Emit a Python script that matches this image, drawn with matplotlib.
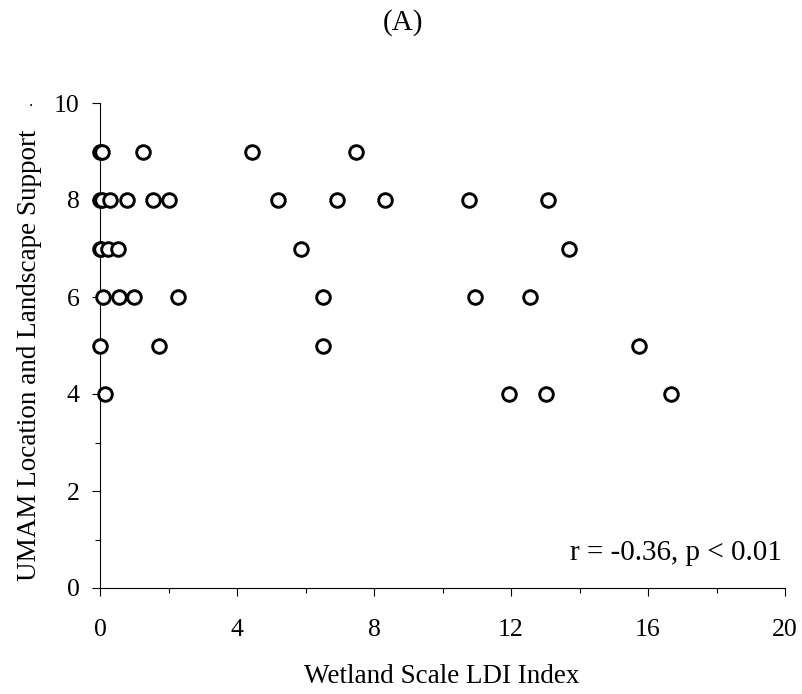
import matplotlib
matplotlib.use("Agg")
import matplotlib.pyplot as plt
from matplotlib.ticker import MultipleLocator

plt.rcParams["font.family"] = ["Liberation Serif", "DejaVu Serif"]

# LDI index values grouped by UMAM location/landscape score
ldi_9 = [0.0, 0.06, 1.25, 4.43, 7.46]
ldi_8 = [0.0, 0.05, 0.29, 0.78, 1.54, 2.02, 5.21, 6.93, 8.32, 10.78, 13.09]
ldi_7 = [0.0, 0.03, 0.22, 0.52, 5.87, 13.70]
ldi_6 = [0.1, 0.55, 1.0, 2.29, 6.52, 10.95, 12.55]
ldi_5 = [0.0, 1.73, 6.52, 15.74]
ldi_4 = [0.15, 11.94, 13.02, 16.67]

groups = [(9, ldi_9), (8, ldi_8), (7, ldi_7), (6, ldi_6), (5, ldi_5), (4, ldi_4)]
xs = [x for _, vals in groups for x in vals]
ys = [score for score, vals in groups for _ in vals]

x_ticks = [0, 4, 8, 12, 16, 20]
y_ticks = [0, 2, 4, 6, 8, 10]

W, H = 802, 694
fig = plt.figure(figsize=(W / 100, H / 100), dpi=100)
ax = fig.add_axes([100 / W, 1 - 588 / H, 685 / W, 485 / H])

ax.plot(xs, ys, linestyle="none", marker="o", markersize=9.8,
        markerfacecolor="white", markeredgecolor="black",
        markeredgewidth=2.1, clip_on=False, zorder=3)

ax.set_xlim(0, 20)
ax.set_ylim(0, 10)
ax.set_xticks(x_ticks)
ax.set_yticks(y_ticks)
ax.xaxis.set_minor_locator(MultipleLocator(2))
ax.yaxis.set_minor_locator(MultipleLocator(1))

for side in ("top", "right"):
    ax.spines[side].set_visible(False)
for side in ("left", "bottom"):
    ax.spines[side].set_linewidth(0.8)

ax.tick_params(which="major", direction="out", length=5.5, width=0.8,
               labelsize=18.5, colors="black")
ax.tick_params(which="minor", direction="out", length=3.5, width=0.8)
ax.tick_params(axis="x", which="major", pad=17)
ax.tick_params(axis="y", which="major", pad=9)

fig.text(403 / W, 1 - 30 / H, "(A)", ha="center", va="baseline", fontsize=21)
fig.text(442 / W, 1 - 683 / H, "Wetland Scale LDI Index",
         ha="center", va="baseline", fontsize=19.5)
fig.text(30 / W, 1 - 355 / H, "UMAM Location and Landscape Support",
         ha="center", va="center", rotation=90, fontsize=19.5)
fig.text(31 / W, 1 - 106 / H, ".", ha="center", va="baseline", fontsize=12)
ax.text(0.9956, 0.0577, "r = -0.36, p < 0.01", transform=ax.transAxes,
        ha="right", va="baseline", fontsize=21)

fig.savefig("out.png", dpi=100)
